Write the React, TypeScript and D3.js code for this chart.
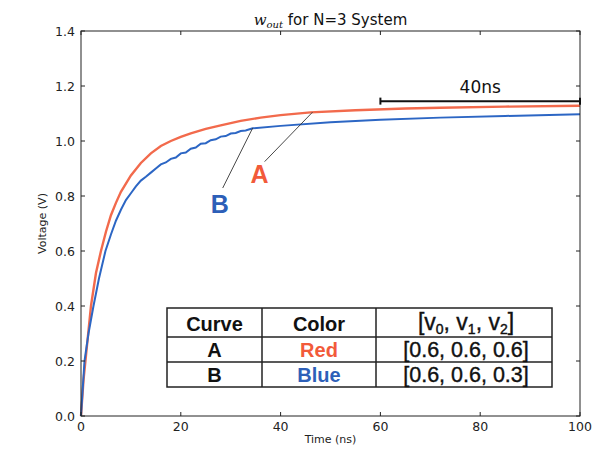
import React from "react";
import * as d3 from "d3";

const width = 592;
const height = 449;
const plot = { left: 81, right: 580, top: 31, bottom: 416 };

// curve A (red): [time ns, volts]
const curveA = [
  [0, 0], [0.5, 0.13], [1, 0.22], [2, 0.4], [3, 0.52], [4, 0.6], [5, 0.67],
  [6, 0.73], [7, 0.775], [8, 0.815], [10, 0.875], [12, 0.92], [14, 0.955],
  [16, 0.982], [18, 1.0], [20, 1.015], [22, 1.028], [25, 1.044], [28, 1.057],
  [32, 1.073], [36, 1.085], [40, 1.094], [46, 1.104], [55, 1.112],
  [65, 1.118], [72, 1.121], [85, 1.125], [100, 1.128],
];

// curve B (blue), a little lower and slightly stepped
const curveB = [
  [0, 0], [0.7, 0.2], [1.5, 0.3], [2.5, 0.4], [3.6, 0.5], [4.9, 0.6],
  [6, 0.66], [7, 0.71], [8, 0.75], [9, 0.785], [10, 0.81], [11, 0.835],
  [12, 0.856], [13, 0.87], [14, 0.885], [15, 0.9], [16, 0.915], [17, 0.922],
  [18, 0.935], [19, 0.94], [20, 0.955], [21, 0.958], [22, 0.972],
  [23, 0.976], [24, 0.99], [25, 0.992], [26, 1.003], [27, 1.006],
  [28, 1.016], [29, 1.018], [30, 1.027], [31, 1.029], [32, 1.036],
  [33, 1.038], [34.4, 1.046], [40, 1.055], [50, 1.068], [60, 1.077],
  [72, 1.085], [85, 1.091], [100, 1.097],
];

const xTicks = [0, 20, 40, 60, 80, 100];
const yTicks = [0, 0.2, 0.4, 0.6, 0.8, 1.0, 1.2, 1.4];

// "40ns" span marker, in ns and volts
const spanStart = 60;
const spanEnd = 100;
const spanLevel = 1.145;
const spanLabel = "40ns";

// labels with leader lines: [label, labelT, labelV, tailT, tailV, tipT, tipV]
const labelA = ["A", 35.8, 0.847, 36.8, 0.925, 46.4, 1.105];
const labelB = ["B", 27.8, 0.738, 28.4, 0.829, 34.4, 1.047];

// table
const tableHeaders = ["Curve", "Color"];
const curveNames = ["A", "B"];
const colorNames = ["Red", "Blue"];
const voltageSets = ["[0.6, 0.6, 0.6]", "[0.6, 0.6, 0.3]"];

const red = "#f26a4c";
const blue = "#2c66c4";
const textRed = "#f25a3a";
const textBlue = "#2d5fb8";

export default function App() {
  const x = d3.scaleLinear().domain([0, 100]).range([plot.left, plot.right]);
  const y = d3.scaleLinear().domain([0, 1.4]).range([plot.bottom, plot.top]);
  const line = d3
    .line()
    .x((d) => x(d[0]))
    .y((d) => y(d[1]))
    .curve(d3.curveLinear);
  const fmt = d3.format(".1f");
  const tick = 4;

  // table layout
  const tx = [167, 262, 376, 552];
  const ty = [308, 337, 362, 387];
  const colMid = (i) => (tx[i] + tx[i + 1]) / 2;

  const sans = "'DejaVu Sans', sans-serif";
  const arial = "'Liberation Sans', Arial, sans-serif";

  return (
    <svg
      width={width}
      height={height}
      style={{ position: "absolute", left: 0, top: 0, background: "#fff" }}
    >
      <rect x={0} y={0} width={width} height={height} fill="#fff" />

      {/* title */}
      <text
        x={(plot.left + plot.right) / 2}
        y={25}
        textAnchor="middle"
        fontFamily={sans}
        fontSize={15}
        fill="#111"
      >
        <tspan fontFamily="'DejaVu Serif', serif" fontStyle="italic">w</tspan>
        <tspan fontFamily="'DejaVu Serif', serif" fontStyle="italic" fontSize={10} dy={3}>out</tspan>
        <tspan dy={-3}> for N=3 System</tspan>
      </text>

      {/* curves */}
      <path d={line(curveA)} fill="none" stroke={red} strokeWidth={2.4} />
      <path d={line(curveB)} fill="none" stroke={blue} strokeWidth={2} />

      {/* frame */}
      <rect
        x={plot.left}
        y={plot.top}
        width={plot.right - plot.left}
        height={plot.bottom - plot.top}
        fill="none"
        stroke="#222"
        strokeWidth={1}
      />

      {/* x ticks */}
      {xTicks.map((t) => (
        <g key={"x" + t}>
          <line x1={x(t)} x2={x(t)} y1={plot.bottom} y2={plot.bottom - tick} stroke="#222" />
          <line x1={x(t)} x2={x(t)} y1={plot.top} y2={plot.top + tick} stroke="#222" />
          <text x={x(t)} y={431} textAnchor="middle" fontFamily={sans} fontSize={12.5} fill="#222">
            {t}
          </text>
        </g>
      ))}

      {/* y ticks */}
      {yTicks.map((v) => (
        <g key={"y" + v}>
          <line x1={plot.left} x2={plot.left + tick} y1={y(v)} y2={y(v)} stroke="#222" />
          <line x1={plot.right} x2={plot.right - tick} y1={y(v)} y2={y(v)} stroke="#222" />
          <text x={75} y={y(v) + 4.5} textAnchor="end" fontFamily={sans} fontSize={12.5} fill="#222">
            {fmt(v)}
          </text>
        </g>
      ))}

      {/* axis labels */}
      <text
        x={(plot.left + plot.right) / 2}
        y={443}
        textAnchor="middle"
        fontFamily={sans}
        fontSize={11}
        fill="#222"
      >
        Time (ns)
      </text>
      <text
        transform={`translate(46,${(plot.top + plot.bottom) / 2}) rotate(-90)`}
        textAnchor="middle"
        fontFamily={sans}
        fontSize={11}
        fill="#222"
      >
        Voltage (V)
      </text>

      {/* 40ns span */}
      <g stroke="#111" strokeWidth={2}>
        <line x1={x(spanStart)} x2={x(spanEnd)} y1={y(spanLevel)} y2={y(spanLevel)} />
        <line x1={x(spanStart)} x2={x(spanStart)} y1={y(spanLevel) - 3.5} y2={y(spanLevel) + 3.5} />
        <line x1={x(spanEnd)} x2={x(spanEnd)} y1={y(spanLevel) - 3.5} y2={y(spanLevel) + 3.5} />
      </g>
      <text
        x={x((spanStart + spanEnd) / 2)}
        y={y(spanLevel) - 8}
        textAnchor="middle"
        fontFamily={sans}
        fontSize={17}
        fill="#111"
      >
        {spanLabel}
      </text>

      {/* A / B labels */}
      {[
        [labelA, textRed],
        [labelB, textBlue],
      ].map(([l, c]) => (
        <g key={l[0]}>
          <line x1={x(l[3])} y1={y(l[4])} x2={x(l[5])} y2={y(l[6])} stroke="#333" strokeWidth={0.9} />
          <text
            x={x(l[1])}
            y={y(l[2])}
            textAnchor="middle"
            fontFamily={arial}
            fontWeight="bold"
            fontSize={25}
            fill={c}
          >
            {l[0]}
          </text>
        </g>
      ))}

      {/* table */}
      <g>
        <rect x={tx[0]} y={ty[0]} width={tx[3] - tx[0]} height={ty[3] - ty[0]} fill="#fff" stroke="#222" strokeWidth={1.5} />
        {[tx[1], tx[2]].map((v) => (
          <line key={"c" + v} x1={v} x2={v} y1={ty[0]} y2={ty[3]} stroke="#222" strokeWidth={1.5} />
        ))}
        {[ty[1], ty[2]].map((v) => (
          <line key={"r" + v} x1={tx[0]} x2={tx[3]} y1={v} y2={v} stroke="#222" strokeWidth={1.5} />
        ))}
        {tableHeaders.map((h, i) => (
          <text key={h} x={colMid(i)} y={331} textAnchor="middle" fontFamily={arial} fontWeight="bold" fontSize={20} fill="#111">
            {h}
          </text>
        ))}
        <text x={colMid(2) + 2} y={330} textAnchor="middle" fontFamily={arial} fontSize={23} fill="#111" stroke="#111" strokeWidth={0.4}>
          <tspan>[v</tspan>
          <tspan fontSize={14} dy={4}>0</tspan>
          <tspan dy={-4}>, v</tspan>
          <tspan fontSize={14} dy={4}>1</tspan>
          <tspan dy={-4}>, v</tspan>
          <tspan fontSize={14} dy={4}>2</tspan>
          <tspan dy={-4}>]</tspan>
        </text>
        {curveNames.map((n, i) => {
          const base = ty[i + 1] + 20;
          return (
            <g key={n}>
              <text x={colMid(0)} y={base} textAnchor="middle" fontFamily={arial} fontWeight="bold" fontSize={20} fill="#111">
                {n}
              </text>
              <text x={colMid(1)} y={base} textAnchor="middle" fontFamily={arial} fontWeight="bold" fontSize={20} fill={i === 0 ? textRed : textBlue}>
                {colorNames[i]}
              </text>
              <text x={colMid(2) + 2} y={base} textAnchor="middle" fontFamily={arial} fontSize={21.5} fill="#111" stroke="#111" strokeWidth={0.4}>
                {voltageSets[i]}
              </text>
            </g>
          );
        })}
      </g>
    </svg>
  );
}
